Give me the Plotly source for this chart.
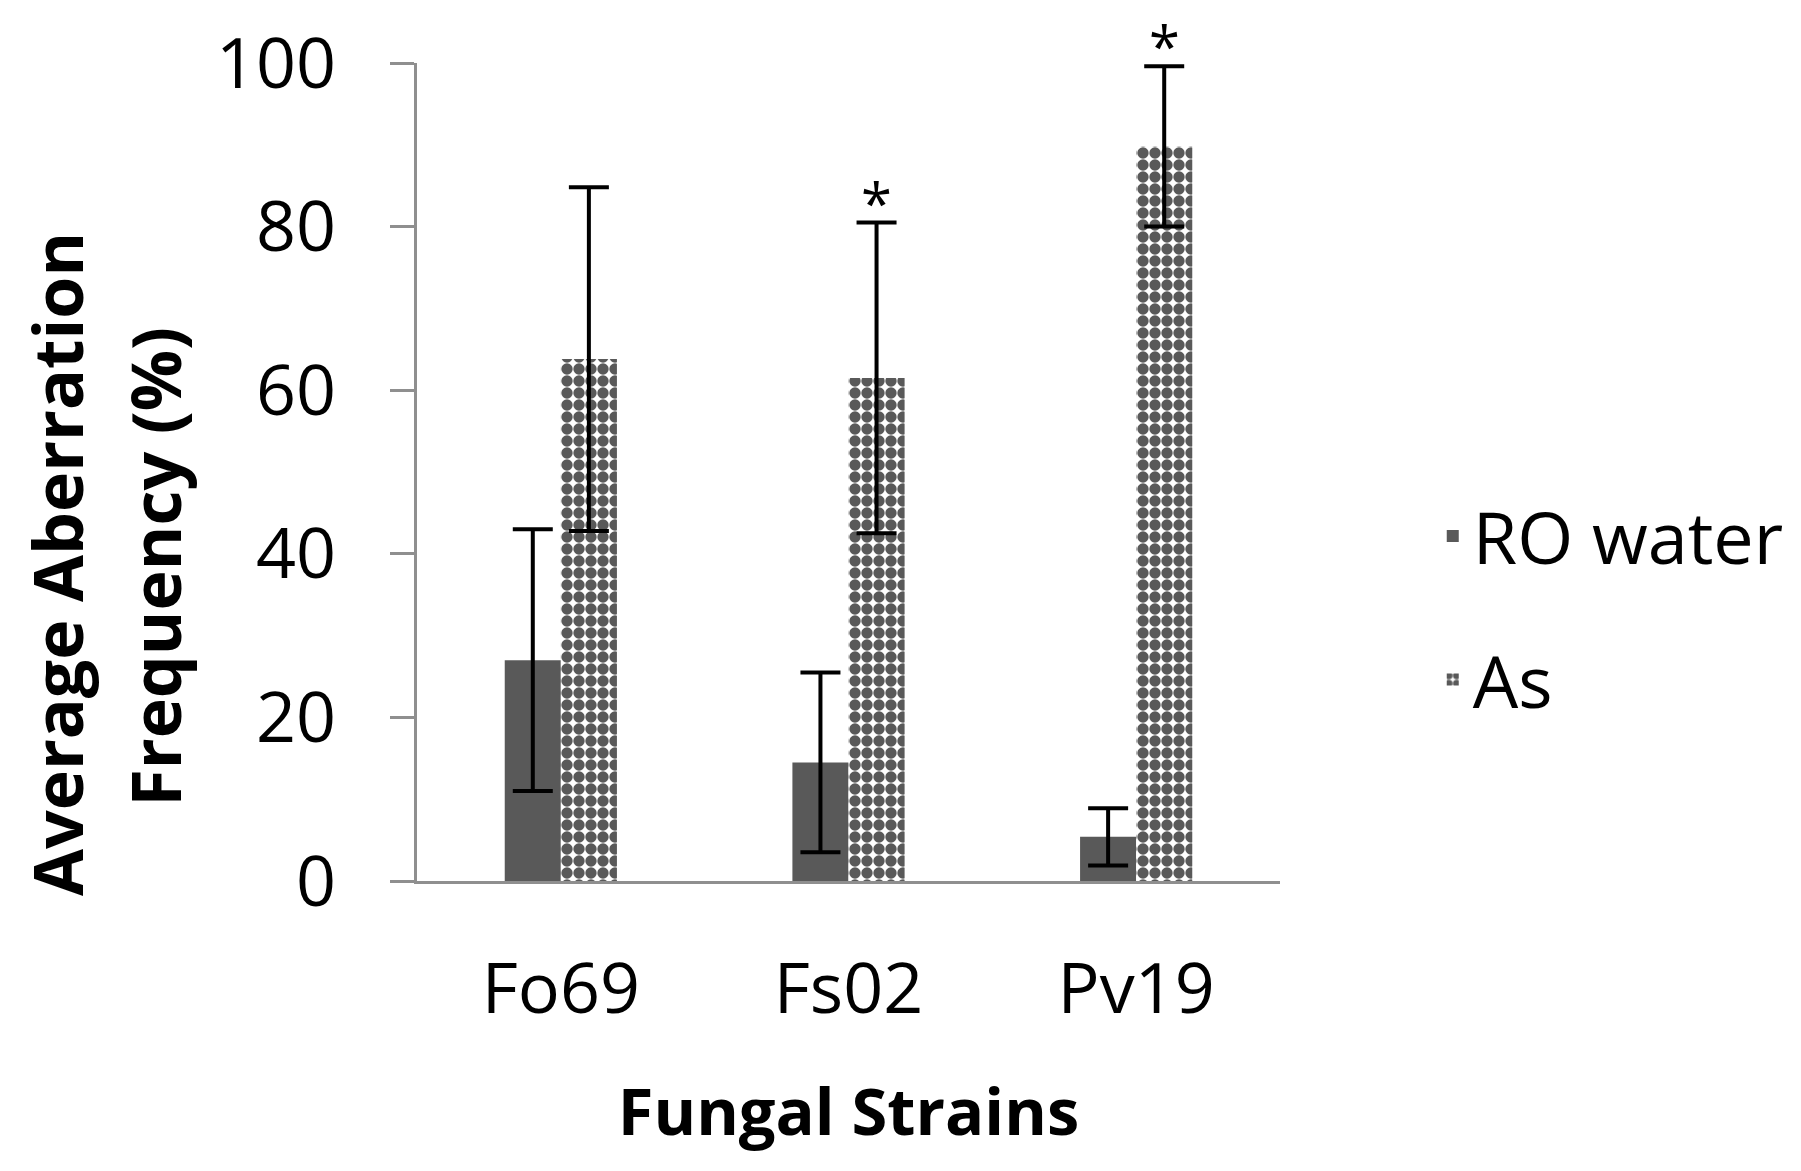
import plotly.graph_objects as go

# datos
cepas = ["Fo69", "Fs02", "Pv19"]
ro_agua = [27.0, 14.5, 5.4]
ro_err = [16.0, 11.0, 3.5]
arsenico = [63.8, 61.5, 89.8]
as_err = [21.0, 19.0, 9.8]
signif = ["", "*", "*"]

gris = "#595959"
linea = "#8f8f8f"
fuente = "Open Sans"

fig = go.Figure()

fig.add_trace(go.Bar(
    x=cepas, y=ro_agua, name="RO water", legendgroup="ro",
    marker=dict(color=gris, line=dict(width=0)),
    error_y=dict(type="data", array=ro_err, color="black", thickness=4, width=20),
))
fig.add_trace(go.Bar(
    x=cepas, y=arsenico, name="As", legendgroup="as",
    marker=dict(color="white", line=dict(width=0),
                pattern=dict(shape=".", fgcolor=gris, bgcolor="white",
                             fgopacity=1, size=12, solidity=0.7)),
    error_y=dict(type="data", array=as_err, color="black", thickness=4, width=20),
))

# asteriscos sobre las barras de As
for c, v, e, s in zip(cepas, arsenico, as_err, signif):
    if s:
        fig.add_annotation(x=c, y=v + e, text=s, showarrow=False,
                           xshift=28, yshift=21, yanchor="middle",
                           font=dict(family=fuente, size=56, color="black"))

# titulo eje y, dos lineas separadas
fig.add_annotation(xref="paper", yref="paper", x=-0.418, y=0.388,
                   text="<b>Average Aberration</b>",
                   textangle=-90, showarrow=False,
                   xanchor="center", yanchor="middle",
                   font=dict(family=fuente, size=68, color="black"))
fig.add_annotation(xref="paper", yref="paper", x=-0.304, y=0.384,
                   text="<b>Frequency (%)</b>",
                   textangle=-90, showarrow=False,
                   xanchor="center", yanchor="middle",
                   font=dict(family=fuente, size=68, color="black"))

#ejes
fig.update_yaxes(range=[0, 100], dtick=20, showgrid=False, zeroline=False,
                 showline=True, linecolor=linea, linewidth=3,
                 ticks="outside", ticklen=24, tickwidth=3, tickcolor=linea,
                 ticklabelstandoff=40, ticklabeloverflow="allow",
                 automargin=False,
                 tickfont=dict(family=fuente, size=70, color="black"))
fig.update_xaxes(showgrid=False, zeroline=False, showline=True,
                 linecolor=linea, linewidth=3, ticks="",
                 ticklabelstandoff=45,
                 tickfont=dict(family=fuente, size=70, color="black"),
                 title=dict(text="<b>Fungal Strains</b>", standoff=57,
                            font=dict(family=fuente, size=65, color="black")))

#tamaño
fig.update_layout(
    width=1793, height=1163,
    margin=dict(l=409, r=512, t=55, b=290),
    barmode="group", bargap=0.61, bargroupgap=0,
    plot_bgcolor="white", paper_bgcolor="white",
    font=dict(family=fuente, color="black"),
    showlegend=True,
    legend=dict(x=1.177, xanchor="left", y=0.487, yanchor="top",
                traceorder="grouped", tracegroupgap=47,
                font=dict(family=fuente, size=72, color="black"),
                bgcolor="rgba(0,0,0,0)"),
)

fig.write_html("out.html")
